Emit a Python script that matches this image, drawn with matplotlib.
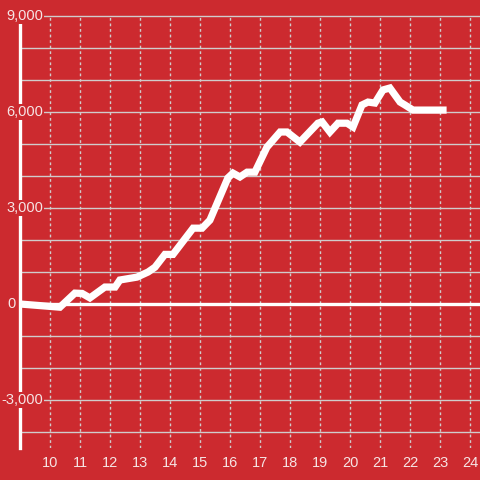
import numpy as np
import matplotlib
matplotlib.use("Agg")
import matplotlib.pyplot as plt

# series (hours vs. value)
hours = [9.00, 10.33, 10.83, 11.07, 11.33, 11.83, 12.17, 12.33, 12.90, 13.27,
         13.50, 13.83, 14.10, 14.77, 15.07, 15.33, 15.93, 16.10, 16.33, 16.57,
         16.83, 17.23, 17.67, 17.90, 18.33, 18.93, 19.07, 19.33, 19.60, 19.90,
         20.10, 20.40, 20.60, 20.83, 21.10, 21.33, 21.67, 21.83, 22.10, 23.10]
values = [0, -100, 340, 330, 190, 530, 530, 750, 840, 1000,
          1150, 1550, 1550, 2370, 2370, 2620, 3940, 4090, 3970, 4120,
          4120, 4900, 5375, 5375, 5060, 5650, 5690, 5375, 5650, 5650,
          5530, 6220, 6310, 6280, 6690, 6750, 6310, 6220, 6060, 6060]

x_ticks = list(range(10, 25))
y_major = [-3000, 0, 3000, 6000, 9000]
y_labels = ["-3,000", "0", "3,000", "6,000", "9,000"]
y_minor = [-4000, -2000, -1000, 1000, 2000, 4000, 5000, 7000, 8000]

bg = "#cc2a2f"
grid_col = "#d0cccc"
txt_col = "#f6e4e4"

plt.rcParams["font.family"] = ["Liberation Sans", "DejaVu Sans"]

fig = plt.figure(figsize=(4.8, 4.8), dpi=100, facecolor=bg)
ax = fig.add_axes([20 / 480, 32 / 480, 460 / 480, 432 / 480])
ax.set_facecolor(bg)
ax.set_xlim(9, 9 + 460 / 30)
ax.set_ylim(-4500, 9000)

# horizontal grid
for v in y_minor + [-3000, 3000, 6000, 9000]:
    ax.axhline(v, color=grid_col, lw=1, zorder=1, clip_on=False)
# vertical dotted grid
for x in x_ticks:
    ax.axvline(x, color=grid_col, lw=1, ls=(0, (2, 2)), zorder=1)
# zero line
ax.axhline(0, color="white", lw=2.4, zorder=2)

ax.plot(hours, values, color="white", lw=5.2, zorder=6, solid_joinstyle="miter")

for s in ["top", "right", "bottom"]:
    ax.spines[s].set_visible(False)
ax.spines["left"].set_color("white")
ax.spines["left"].set_linewidth(2.4)
ax.spines["left"].set_bounds(-4500, 8750)
ax.spines["left"].set_zorder(2)

ax.set_yticks([])
ax.set_xticks(x_ticks)
ax.tick_params(axis="x", length=0, pad=6, labelsize=10.5, labelcolor=txt_col)

for v, lab in zip(y_major, y_labels):
    # the zero label sits right up against the axis
    off = -4 if v == 0 else 23
    ax.annotate(lab, xy=(0, v), xycoords=("axes fraction", "data"),
                xytext=(off, 0), textcoords="offset pixels",
                ha="right", va="center", fontsize=10.5, color=txt_col,
                zorder=5, annotation_clip=False,
                bbox=dict(boxstyle="square,pad=0.1", fc=bg, ec="none"))

fig.savefig("out.png", dpi=100, facecolor=bg)
